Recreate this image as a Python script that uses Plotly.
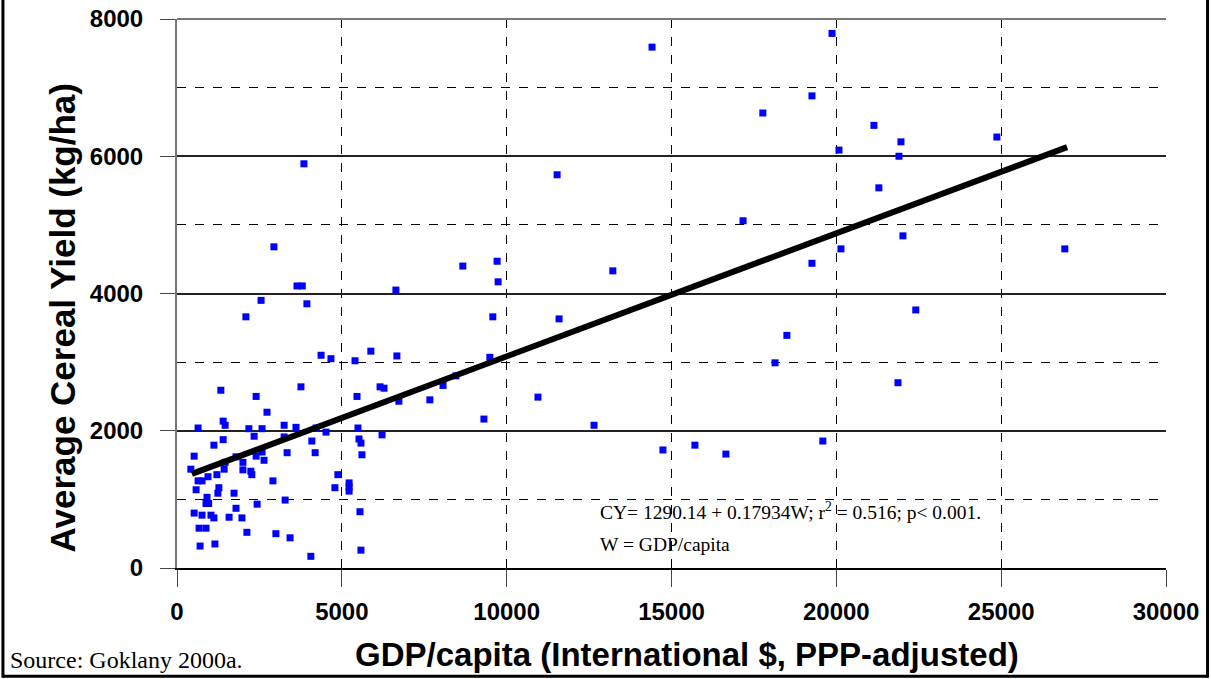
import plotly.graph_objects as go

# Data
gdp = [3640, 3800, 2550, 3940, 2090, 4370, 4670, 5400, 5880, 1330, 3760, 2400, 5460, 2730,
       640, 1400, 1460, 2180, 2580, 2340, 3250, 3610, 4220, 4520, 3250, 4090, 5490, 5520,
       5580, 5610, 1120, 1400, 520, 2580, 2400, 2640, 3340, 4190, 1790, 1460, 2000, 420,
       1430, 2000, 2240, 2270, 1210, 640, 760, 940, 580, 1270, 1240, 1730, 2910, 4880,
       5220, 5220, 5220, 4790, 910, 880, 960, 3280, 2430, 1790, 520, 760, 1030, 1120,
       1580, 1970, 5550, 670, 880, 2120, 3000, 3430, 700, 1150, 4060, 5580,
       6640, 9740, 9580, 11590, 6670, 9490, 6160, 6280, 8460, 8070, 6730, 7670, 10950,
       9310, 12650, 6220,
       3850, 11530, 2940, 8670, 9710,
       14410, 19870, 19260, 17770, 21140, 21960, 24870, 20080, 21900, 21290, 17170,
       22020, 20140, 26930, 19260, 13220, 22410, 18500, 18140, 21870, 14740, 15710,
       16650, 19590]
yield_kg = [4110, 4110, 3900, 3850, 3660, 3100, 3050, 3020, 3160, 2590, 2640, 2500, 2500, 2270,
            2040, 2140, 2080, 2030, 2030, 1920, 2080, 2050, 2040, 1980, 1910, 1850, 2040, 1880,
            1820, 1650, 1790, 1870, 1630, 1690, 1630, 1570, 1680, 1680, 1620, 1540, 1540, 1440,
            1440, 1430, 1410, 1360, 1360, 1270, 1270, 1330, 1140, 1170, 1090, 1090, 1270, 1360,
            1240, 1180, 1120, 1170, 1030, 940, 940, 990, 930, 870, 800, 770, 770, 730,
            740, 730, 820, 580, 580, 520, 500, 440, 320, 350, 170, 260,
            4050, 4170, 3660, 3630, 3090, 3070, 2640, 2620, 2800, 2660, 2430, 2450, 2490,
            2170, 2080, 1940,
            5890, 5730, 4680, 4400, 4470,
            7590, 7790, 6880, 6630, 6450, 6210, 6280, 6090, 6000, 5540, 5060,
            4840, 4650, 4650, 4440, 4330, 3760, 3390, 2990, 2700, 1720, 1790,
            1660, 1850]

intercept = 1290.14
slope = 0.17934
fit_range = [450, 27000]

x_ticks = [0, 5000, 10000, 15000, 20000, 25000, 30000]
y_ticks = [0, 2000, 4000, 6000, 8000]

fit_y = [intercept + slope * v for v in fit_range]

fig = go.Figure()
fig.add_trace(go.Scatter(x=gdp, y=yield_kg, mode="markers",
                         marker=dict(symbol="square", size=7, color="#0000FF",
                                     line=dict(width=0)),
                         showlegend=False, cliponaxis=False))
fig.add_trace(go.Scatter(x=fit_range, y=fit_y, mode="lines",
                         line=dict(color="black", width=6), showlegend=False))

sans = "Liberation Sans, Arial, sans-serif"
serif = "Liberation Serif, Times New Roman, serif"

fig.update_layout(
    width=1211, height=679,
    margin=dict(l=177, r=45, t=19, b=111, autoexpand=False),
    paper_bgcolor="white", plot_bgcolor="white",
    xaxis=dict(range=[0, 30000], tickvals=x_ticks, ticktext=[str(v) for v in x_ticks],
               automargin=False,
               showgrid=True, gridcolor="black", gridwidth=1, griddash="dash",
               showline=True, linecolor="black", linewidth=1.5,
               ticks="outside", ticklen=17, tickcolor="#444", tickwidth=1,
               ticklabelstandoff=4,
               tickfont=dict(family=sans, size=24, color="black", weight="bold"),
               zeroline=False),
    yaxis=dict(range=[0, 8000], tickvals=y_ticks, ticktext=[str(v) for v in y_ticks],
               automargin=False,
               showgrid=True, gridcolor="#222", gridwidth=1.5,
               minor=dict(dtick=1000, showgrid=True, gridcolor="black", gridwidth=1,
                          griddash="dash"),
               showline=True, linecolor="#777", linewidth=2,
               ticks="outside", ticklen=15, tickcolor="#444", tickwidth=1,
               ticklabelstandoff=12,
               tickfont=dict(family=sans, size=24, color="black", weight="bold"),
               zeroline=False),
    annotations=[
        dict(xref="paper", yref="paper", x=-0.116, y=0.455, xanchor="center", yanchor="middle",
             text="Average Cereal Yield (kg/ha)", showarrow=False, textangle=-90,
             font=dict(family=sans, size=35, color="black", weight="bold")),
        dict(xref="paper", yref="paper", x=0.5157, y=-0.158, xanchor="center", yanchor="middle",
             text="GDP/capita (International $, PPP-adjusted)", showarrow=False,
             font=dict(family=sans, size=33, color="black", weight="bold")),
        dict(xref="paper", yref="paper", x=0.426, y=0.103, xanchor="left", yanchor="middle",
             text="CY= 1290.14 + 0.17934W; r<sup>2</sup> = 0.516; p< 0.001.", showarrow=False,
             font=dict(family=serif, size=19.5, color="black")),
        dict(xref="paper", yref="paper", x=0.426, y=0.043, xanchor="left", yanchor="middle",
             text="W = GDP/capita", showarrow=False,
             font=dict(family=serif, size=19.5, color="black")),
        dict(xref="paper", yref="paper", x=-0.171, y=-0.168, xanchor="left", yanchor="middle",
             text="Source: Goklany 2000a.", showarrow=False,
             font=dict(family=serif, size=24, color="black")),
    ],
    shapes=[
        dict(type="line", xref="paper", yref="paper", x0=-0.176, x1=-0.176, y0=-0.2, y1=1.04,
             line=dict(color="black", width=3)),
        dict(type="line", xref="paper", yref="paper", x0=1.042, x1=1.042, y0=-0.2, y1=1.04,
             line=dict(color="black", width=3)),
        dict(type="line", xref="paper", yref="paper", x0=-0.176, x1=1.042, y0=-0.197, y1=-0.197,
             line=dict(color="black", width=3)),
        dict(type="line", xref="paper", yref="paper", x0=0, x1=1, y0=1, y1=1,
             line=dict(color="#777", width=2)),
    ],
)

fig.write_html("out.html")
